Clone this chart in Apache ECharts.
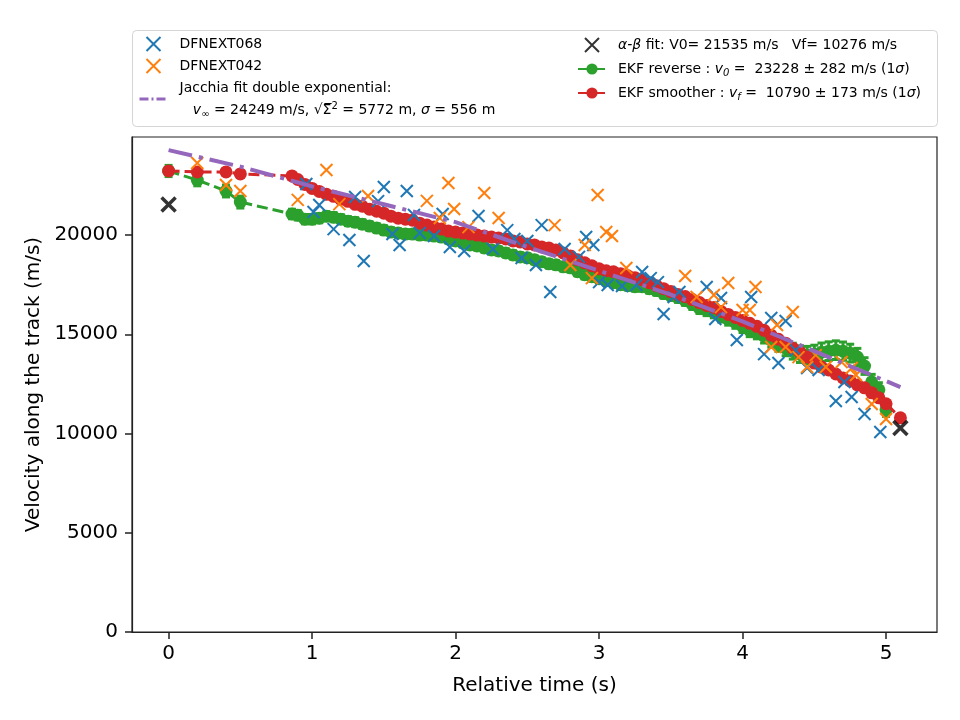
<!DOCTYPE html>
<html>
<head>
<meta charset="utf-8">
<title>Velocity along the track</title>
<script src="https://cdn.jsdelivr.net/npm/echarts@6/dist/echarts.min.js"></script>
<style>
  html, body { margin: 0; padding: 0; background: #fff; }
  #main { width: 960px; height: 720px; }
</style>
</head>
<body>
<div id="main"></div>
<script>
// DFNEXT068 points
var blueT = [0.96, 1.01, 1.05, 1.15, 1.26, 1.30, 1.36, 1.46, 1.50, 1.56, 1.61, 1.66, 1.71, 1.75, 1.85, 1.91, 1.96,
	2.06, 2.16, 2.26, 2.36, 2.41, 2.46, 2.50, 2.56, 2.60, 2.66, 2.76, 2.86, 2.91, 2.96, 3.00, 3.06, 3.16, 3.26,
	3.30, 3.36, 3.41, 3.45, 3.52, 3.56, 3.75, 3.81, 3.85, 3.96, 4.06, 4.15, 4.20, 4.25, 4.30, 4.37, 4.45, 4.53,
	4.65, 4.71, 4.76, 4.85, 4.96];
var blueV = [22570, 21160, 21510, 20300, 19750, 21920, 18690, 21710, 22420, 20050, 19500, 22220, 21010, 20100, 19950, 21060, 19400,
	19200, 20960, 19300, 20250, 19800, 18840, 19700, 18490, 20500, 17130, 19300, 18900, 19900, 19500, 17630, 17480, 17430, 17480,
	18140, 17830, 17630, 16020, 16880, 17130, 17380, 15770, 16830, 14710, 16880, 14000, 15820, 13550, 15670, 14200, 13300, 13200,
	11640, 12600, 11840, 10980, 10080];
// DFNEXT042 points
var orangeT = [0.20, 0.40, 0.50, 0.90, 1.10, 1.19, 1.39, 1.80, 1.89, 1.95, 1.99, 2.09, 2.20, 2.30, 2.69, 2.80, 2.90, 2.95,
	2.99, 3.05, 3.09, 3.19, 3.60, 3.68, 3.80, 3.85, 3.90, 4.00, 4.05, 4.09, 4.20, 4.24, 4.30, 4.35, 4.39, 4.45,
	4.51, 4.58, 4.69, 4.76, 4.79, 4.90, 5.00];
var orangeV = [23630, 22520, 22220, 21770, 23280, 21560, 21970, 21720, 20860, 22620, 21310, 20400, 22120, 20860, 20500, 18490, 19500, 17830,
	22020, 20150, 19950, 18340, 17940, 16880, 16980, 16370, 17580, 16220, 16220, 17380, 14360, 15470, 14360, 16120, 13850, 13350,
	13950, 13350, 13600, 13300, 12950, 11490, 10730];
// Jacchia fit
var jacT = [0, 0.5, 1, 1.5, 2, 2.5, 3, 3.5, 4, 4.5, 5.1];
var jacV = [24280, 23450, 22450, 21550, 20650, 19400, 18200, 17000, 15650, 14150, 12340];
// alpha-beta fit
var abT = [0, 5.1];
var abV = [21535, 10276];
// EKF reverse
var revT = [0, 0.2, 0.4, 0.5, 0.86, 0.9, 0.95, 1.0, 1.05, 1.1, 1.15, 1.2, 1.25, 1.3, 1.35, 1.4, 1.45, 1.5, 1.55, 1.6,
	1.65, 1.7, 1.75, 1.8, 1.85, 1.9, 1.95, 2.0, 2.05, 2.1, 2.15, 2.2, 2.25, 2.3, 2.35, 2.4, 2.45, 2.5, 2.55, 2.6,
	2.65, 2.7, 2.75, 2.8, 2.85, 2.9, 2.95, 3.0, 3.05, 3.1, 3.15, 3.2, 3.25, 3.3, 3.35, 3.4, 3.45, 3.5, 3.55, 3.6,
	3.65, 3.7, 3.75, 3.8, 3.85, 3.9, 3.95, 4.0, 4.05, 4.1, 4.15, 4.2, 4.25, 4.3, 4.35, 4.4, 4.45, 4.5, 4.55, 4.6,
	4.65, 4.7, 4.75, 4.8, 4.85, 4.9, 4.95, 5.0];
var revV = [23228, 22770, 22220, 21660, 21060, 21000, 20800, 20800, 20850, 20950, 20900, 20800, 20700, 20650, 20550, 20450, 20350, 20250, 20150, 20100,
	20050, 20050, 20000, 20000, 19950, 19900, 19800, 19700, 19600, 19500, 19450, 19350, 19250, 19200, 19100, 19000, 18900, 18850, 18750, 18650,
	18550, 18500, 18400, 18350, 18150, 18000, 17900, 17800, 17700, 17600, 17500, 17450, 17400, 17400, 17300, 17200, 17050, 16950, 16850, 16700,
	16500, 16300, 16200, 16100, 15900, 15750, 15600, 15400, 15200, 15100, 14900, 14700, 14500, 14300, 14150, 14000, 13950, 14000, 14100, 14150,
	14200, 14150, 14050, 13850, 13400, 12600, 12200, 11200];
var revErr = [282, 290, 300, 300, 240, 240, 235, 235, 230, 230, 230, 225, 225, 225, 220, 220, 220, 220, 215, 215,
	215, 215, 210, 210, 210, 210, 210, 210, 205, 205, 205, 205, 205, 205, 205, 205, 205, 205, 205, 205,
	210, 210, 210, 210, 210, 215, 215, 215, 215, 220, 220, 220, 225, 225, 230, 230, 235, 235, 240, 245,
	250, 255, 260, 270, 280, 290, 300, 310, 320, 330, 340, 350, 360, 380, 400, 420, 440, 450, 460, 470,
	470, 460, 450, 440, 420, 380, 360, 340];
// EKF smoother
var smT = [0, 0.2, 0.4, 0.5, 0.86, 0.9, 0.95, 1.0, 1.05, 1.1, 1.15, 1.2, 1.25, 1.3, 1.35, 1.4, 1.45, 1.5, 1.55, 1.6,
	1.65, 1.7, 1.75, 1.8, 1.85, 1.9, 1.95, 2.0, 2.05, 2.1, 2.15, 2.2, 2.25, 2.3, 2.35, 2.4, 2.45, 2.5, 2.55, 2.6,
	2.65, 2.7, 2.75, 2.8, 2.85, 2.9, 2.95, 3.0, 3.05, 3.1, 3.15, 3.2, 3.25, 3.3, 3.35, 3.4, 3.45, 3.5, 3.55, 3.6,
	3.65, 3.7, 3.75, 3.8, 3.85, 3.9, 3.95, 4.0, 4.05, 4.1, 4.15, 4.2, 4.25, 4.3, 4.35, 4.4, 4.45, 4.5, 4.55, 4.6,
	4.65, 4.7, 4.75, 4.8, 4.85, 4.9, 4.95, 5.0, 5.1];
var smV = [23230, 23180, 23180, 23080, 22980, 22800, 22550, 22350, 22200, 22050, 21950, 21800, 21700, 21550, 21450, 21300, 21200, 21100, 20950, 20850,
	20800, 20750, 20600, 20500, 20400, 20300, 20200, 20150, 20100, 20050, 20000, 19950, 19900, 19850, 19800, 19700, 19650, 19550, 19500, 19400,
	19350, 19250, 19100, 18950, 18750, 18600, 18450, 18300, 18200, 18150, 18050, 17950, 17850, 17750, 17600, 17450, 17300, 17150, 17000, 16900,
	16750, 16600, 16450, 16350, 16150, 16000, 15850, 15700, 15550, 15400, 15200, 14950, 14750, 14550, 14300, 14100, 13850, 13550, 13350, 13200,
	13000, 12800, 12650, 12450, 12300, 12050, 11800, 11500, 10790];
// axis ticks
var xTicks = [0, 1, 2, 3, 4, 5];
var yTicks = [0, 5000, 10000, 15000, 20000];
var xMin = -0.255, xMax = 5.355, yMin = 0, yMax = 24940;

var FONT = '"DejaVu Sans", sans-serif';
var X_PATH = 'path://M0,0L10,10M10,0L0,10';
var AXIS_COLOR = '#222';

function pairs(ts, vs) {
	var out = [];
	for (var i = 0; i < ts.length; i++) out.push([ts[i], vs[i]]);
	return out;
}

var errData = [];
for (var i = 0; i < revT.length; i++) {
	errData.push([revT[i], revV[i] - revErr[i], revV[i] + revErr[i]]);
}

var legendNames = {
	'DFNEXT068': 'DFNEXT068',
	'DFNEXT042': 'DFNEXT042',
	'jacchia': 'Jacchia fit double exponential:\n   {it|v}{sub|∞} = 24249 m/s, √Σ̅{sup|2} = 5772 m, {it|σ} = 556 m',
	'ab': '{it|α-β} fit: V0= 21535 m/s   Vf= 10276 m/s',
	'rev': 'EKF reverse : {it|v}{sub|0} =  23228 ± 282 m/s (1{it|σ})',
	'sm': 'EKF smoother : {it|v}{sub|f} =  10790 ± 173 m/s (1{it|σ})'
};

function richFor(lh) {
	return {
		it: {fontFamily: FONT, fontStyle: 'italic', fontSize: 14, lineHeight: lh, color: '#000'},
		sub: {fontFamily: FONT, fontStyle: 'italic', fontSize: 10, lineHeight: lh, padding: [8, 0, 0, 0], color: '#000'},
		sup: {fontFamily: FONT, fontSize: 10, lineHeight: lh, padding: [0, 0, 8, 0], color: '#000'}
	};
}

var myChart = echarts.init(document.getElementById('main'), null, {renderer: 'canvas'});
var option = {
	animation: false,
	backgroundColor: '#fff',
	//图例外框
	graphic: [{
		type: 'rect',
		left: 132, top: 30, z: 0,
		shape: {width: 805, height: 96, r: 4},
		style: {fill: 'rgba(255,255,255,0.8)', stroke: '#d5d5d5', lineWidth: 1}
	}],
	legend: [{
		data: ['DFNEXT068', 'DFNEXT042',
			{name: 'jacchia', itemStyle: {opacity: 0}, lineStyle: {type: [9, 3, 2, 3], width: 3}}],
		orient: 'vertical',
		left: 133, top: 28,
		itemWidth: 28, itemHeight: 14, itemGap: 0,
		selectedMode: false,
		textStyle: {fontFamily: FONT, fontSize: 14, color: '#000', lineHeight: 22, padding: [0, 0, 0, 7], rich: richFor(22)},
		formatter: function(name) { return legendNames[name]; }
	}, {
		data: ['ab', 'rev', 'sm'],
		orient: 'vertical',
		left: 572, top: 28,
		itemWidth: 28, itemHeight: 14, itemGap: 0,
		selectedMode: false,
		textStyle: {fontFamily: FONT, fontSize: 14, color: '#000', lineHeight: 24, padding: [0, 0, 0, 7], rich: richFor(24)},
		formatter: function(name) { return legendNames[name]; }
	}],
	grid: {
		left: 132, right: 23, top: 137, bottom: 88,
		show: true, borderColor: AXIS_COLOR, borderWidth: 1.2, backgroundColor: 'transparent'
	},
	xAxis: {
		type: 'value',
		min: xMin, max: xMax,
		name: 'Relative time (s)',
		nameLocation: 'middle', nameGap: 44,
		nameTextStyle: {fontFamily: FONT, fontSize: 20, color: '#000'},
		axisLine: {show: true, onZero: false, lineStyle: {color: AXIS_COLOR, width: 1.2}},
		axisTick: {show: true, length: 7, customValues: xTicks, lineStyle: {color: AXIS_COLOR, width: 1.5}},
		axisLabel: {customValues: xTicks, fontFamily: FONT, fontSize: 20, color: '#000', margin: 12,
			formatter: function(v) { return String(v); }},
		splitLine: {show: false}
	},
	yAxis: {
		type: 'value',
		min: yMin, max: yMax,
		name: 'Velocity along the track (m/s)',
		nameLocation: 'middle', nameGap: 83,
		nameTextStyle: {fontFamily: FONT, fontSize: 20, color: '#000'},
		axisLine: {show: true, onZero: false, lineStyle: {color: AXIS_COLOR, width: 1.2}},
		axisTick: {show: true, length: 7, customValues: yTicks, lineStyle: {color: AXIS_COLOR, width: 1.5}},
		axisLabel: {customValues: yTicks, fontFamily: FONT, fontSize: 20, color: '#000', margin: 14,
			formatter: function(v) { return String(v); }},
		splitLine: {show: false}
	},
	series: [
		{
			name: 'rev-err',
			type: 'custom',
			z: 2,
			silent: true,
			data: errData,
			renderItem: function(params, api) {
				var x = api.value(0);
				var lo = api.coord([x, api.value(1)]);
				var hi = api.coord([x, api.value(2)]);
				var st = {stroke: '#2ca02c', lineWidth: 3};
				return {
					type: 'group',
					children: [
						{type: 'line', shape: {x1: lo[0], y1: lo[1], x2: hi[0], y2: hi[1]}, style: st},
						{type: 'line', shape: {x1: lo[0] - 4, y1: lo[1], x2: lo[0] + 4, y2: lo[1]}, style: st},
						{type: 'line', shape: {x1: hi[0] - 4, y1: hi[1], x2: hi[0] + 4, y2: hi[1]}, style: st}
					]
				};
			}
		},
		{
			name: 'rev',
			type: 'line',
			z: 2,
			data: pairs(revT, revV),
			symbol: 'circle', symbolSize: 13, showAllSymbol: true,
			itemStyle: {color: '#2ca02c'},
			lineStyle: {color: '#2ca02c', width: 3, type: [11, 5]}
		},
		{
			name: 'sm',
			type: 'line',
			z: 3,
			data: pairs(smT, smV),
			symbol: 'circle', symbolSize: 13, showAllSymbol: true,
			itemStyle: {color: '#d62728'},
			lineStyle: {color: '#d62728', width: 3, type: [11, 5]}
		},
		{
			name: 'DFNEXT068',
			type: 'scatter',
			z: 4,
			data: pairs(blueT, blueV),
			symbol: X_PATH, symbolSize: 12,
			itemStyle: {color: 'rgba(0,0,0,0)', borderColor: '#1f77b4', borderWidth: 2, opacity: 1}
		},
		{
			name: 'DFNEXT042',
			type: 'scatter',
			z: 4,
			data: pairs(orangeT, orangeV),
			symbol: X_PATH, symbolSize: 12,
			itemStyle: {color: 'rgba(0,0,0,0)', borderColor: '#ff7f0e', borderWidth: 2, opacity: 1}
		},
		{
			name: 'jacchia',
			type: 'line',
			z: 5,
			data: pairs(jacT, jacV),
			symbol: 'none',
			itemStyle: {color: '#9467bd'},
			lineStyle: {color: '#9467bd', width: 4, type: [24, 7, 4, 7]}
		},
		{
			name: 'ab',
			type: 'scatter',
			z: 6,
			data: pairs(abT, abV),
			symbol: X_PATH, symbolSize: 14,
			itemStyle: {color: 'rgba(0,0,0,0)', borderColor: 'rgba(0,0,0,0.8)', borderWidth: 3.5, opacity: 1}
		}
	]
};

myChart.setOption(option);
window.onresize = myChart.resize;
</script>
</body>
</html>
